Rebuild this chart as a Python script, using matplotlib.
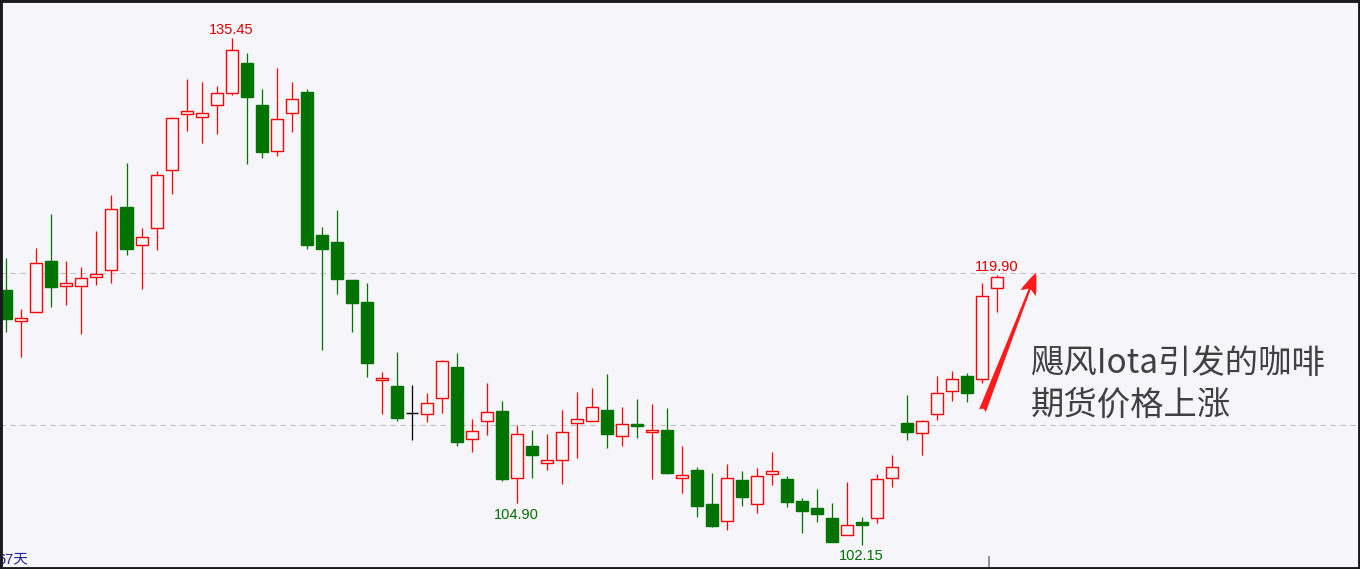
import numpy as np
import matplotlib.pyplot as plt
from matplotlib.patches import Rectangle

plt.rcParams['font.family'] = ['Liberation Sans', 'Noto Sans CJK SC', 'DejaVu Sans']

# precios diarios del cafe (67 dias)
opens = [118.90, 116.86, 117.45, 120.81, 119.16, 119.16, 119.76, 120.22, 124.36, 121.86,
         122.98, 126.80, 130.48, 130.28, 131.07, 131.86, 133.84, 131.07, 128.05, 130.55,
         131.93, 122.52, 122.06, 119.56, 118.11, 112.98, 112.59, 110.81, 110.74, 111.80,
         113.84, 109.10, 110.28, 110.94, 106.53, 108.64, 107.52, 107.72, 110.15, 110.28,
         111.01, 109.30, 110.09, 109.56, 109.69, 106.53, 107.06, 104.82, 103.70, 106.40,
         104.82, 106.80, 106.47, 105.02, 104.56, 103.90, 102.78, 103.64, 103.90, 106.53,
         110.15, 109.49, 110.74, 112.26, 113.24, 113.05, 119.03]
highs = [121.01, 117.65, 121.66, 123.90, 120.81, 120.41, 122.78, 125.15, 127.26, 122.98,
         126.73, 130.28, 132.78, 132.59, 132.32, 135.45, 134.49, 132.13, 133.51, 132.59,
         132.13, 123.05, 124.16, 119.56, 119.36, 113.51, 114.82, 112.65, 112.12, 114.30,
         114.76, 110.41, 112.78, 111.60, 110.02, 109.69, 109.43, 111.01, 112.19, 112.45,
         113.38, 111.20, 111.73, 111.40, 111.14, 108.64, 107.26, 106.86, 107.45, 106.99,
         107.19, 108.24, 106.66, 105.22, 105.81, 104.89, 106.27, 103.97, 106.80, 108.05,
         111.99, 110.35, 113.24, 113.57, 113.44, 119.36, 119.90]
lows = [116.14, 114.49, 117.45, 117.78, 117.91, 116.01, 119.23, 119.36, 121.20, 118.97,
        121.53, 125.22, 129.36, 128.57, 129.16, 131.73, 127.19, 127.59, 127.72, 129.30,
        121.60, 114.95, 118.64, 116.14, 113.18, 110.74, 110.28, 109.01, 110.22, 110.81,
        108.64, 108.24, 109.36, 106.34, 104.90, 106.53, 107.06, 106.14, 107.85, 110.28,
        108.51, 108.64, 109.17, 106.47, 106.80, 105.54, 103.97, 103.31, 103.11, 104.69,
        104.23, 106.07, 104.62, 102.92, 103.64, 102.32, 102.78, 102.15, 103.57, 105.94,
        109.03, 108.05, 110.35, 111.60, 111.53, 112.78, 117.45]
closes = [116.99, 117.06, 120.68, 119.10, 119.36, 119.69, 119.95, 124.23, 121.60, 122.39,
          126.47, 130.22, 130.68, 130.55, 131.86, 134.69, 131.60, 127.98, 130.15, 131.47,
          121.86, 121.60, 119.63, 118.05, 114.10, 113.11, 110.48, 110.81, 111.47, 114.23,
          108.90, 109.63, 110.88, 106.47, 109.43, 108.05, 107.72, 109.56, 110.41, 111.20,
          109.43, 110.09, 109.95, 109.69, 106.86, 106.73, 104.69, 103.37, 106.53, 105.28,
          106.66, 106.99, 104.95, 104.36, 104.16, 102.32, 103.44, 103.44, 106.47, 107.26,
          109.56, 110.28, 112.12, 113.05, 112.12, 118.51, 119.76]

# etiquetas de maximos / minimos
etiquetas = [(15, 'high', '135.45'), (34, 'low', '104.90'), (57, 'low', '102.15'), (66, 'high', '119.90')]
niveles = [110, 120]
marca_x = 65.5
dias = '67天'
texto = ['飓风Iota引发的咖啡', '期货价格上涨']

fondo = '#f5f5fa'
rojo = '#ff0000'
verde = '#007300'

fig = plt.figure(figsize=(13.6, 5.69), dpi=100, facecolor=fondo)
ax = fig.add_axes([0, 0, 1, 1])
ax.set_facecolor(fondo)
ax.set_xlim(-0.4333, 90.233)
ax.set_ylim(100.545, 137.98)
ax.axis('off')

for nv in niveles:
    ax.axhline(nv, color='#c0c0c6', lw=0.8, linestyle=(0, (5, 4)), zorder=1)

ancho = 0.8
for i in range(len(opens)):
    o, h, l, c = opens[i], highs[i], lows[i], closes[i]
    if c > o:
        col = rojo
    elif c < o:
        col = verde
    else:
        col = 'black'
    top = max(o, c)
    bot = min(o, c)
    ax.vlines(i, top, h, color=col, lw=0.9, zorder=2)
    ax.vlines(i, l, bot, color=col, lw=0.9, zorder=2)
    if c == o:
        ax.hlines(o, i - ancho / 2, i + ancho / 2, color=col, lw=1.0, zorder=3)
    elif c > o:
        ax.add_patch(Rectangle((i - ancho / 2, bot), ancho, max(top - bot, 0.08),
                               facecolor=fondo, edgecolor=col, lw=1.0, zorder=3))
    else:
        ax.add_patch(Rectangle((i - ancho / 2, bot), ancho, max(top - bot, 0.08),
                               facecolor=col, edgecolor=col, lw=1.0, zorder=3))

for idx, tipo, txt in etiquetas:
    if tipo == 'high':
        ax.annotate(txt, (idx, highs[idx]), xytext=(0, 3), textcoords='offset points',
                    ha='center', va='baseline', fontsize=10.5, color='#e00000')
    else:
        ax.annotate(txt, (idx, lows[idx]), xytext=(0, -3.5), textcoords='offset points',
                    ha='center', va='top', fontsize=10.5, color='#007000')

# marca en el eje de tiempo
ax.vlines(marca_x, 100.545, 101.4, color='#808080', lw=1.2, zorder=2)

ax.text(-0.62, 100.93, dias, fontsize=10.5, color='#2020a0', va='baseline', ha='left')

# flecha roja
ax.annotate('', xy=(68.7, 120.2), xytext=(65.0, 110.8),
            arrowprops=dict(arrowstyle='fancy,head_length=1.2,head_width=0.9,tail_width=0.4',
                            mutation_scale=13, color='#ff1a1a', lw=0))

fig.text(1031 / 1360, 1 - 363 / 569, texto[0], fontsize=24, color='#404040',
         family=['Noto Sans CJK SC', 'DejaVu Sans'], va='center', ha='left')
fig.text(1031 / 1360, 1 - 405 / 569, texto[1], fontsize=24, color='#404040',
         family=['Noto Sans CJK SC', 'DejaVu Sans'], va='center', ha='left')

fig.patches.append(Rectangle((0, 0), 1, 1, transform=fig.transFigure, fill=False,
                             edgecolor='#1a1a1a', lw=3.5, zorder=10))

plt.savefig('out.png', dpi=100, facecolor=fondo)
